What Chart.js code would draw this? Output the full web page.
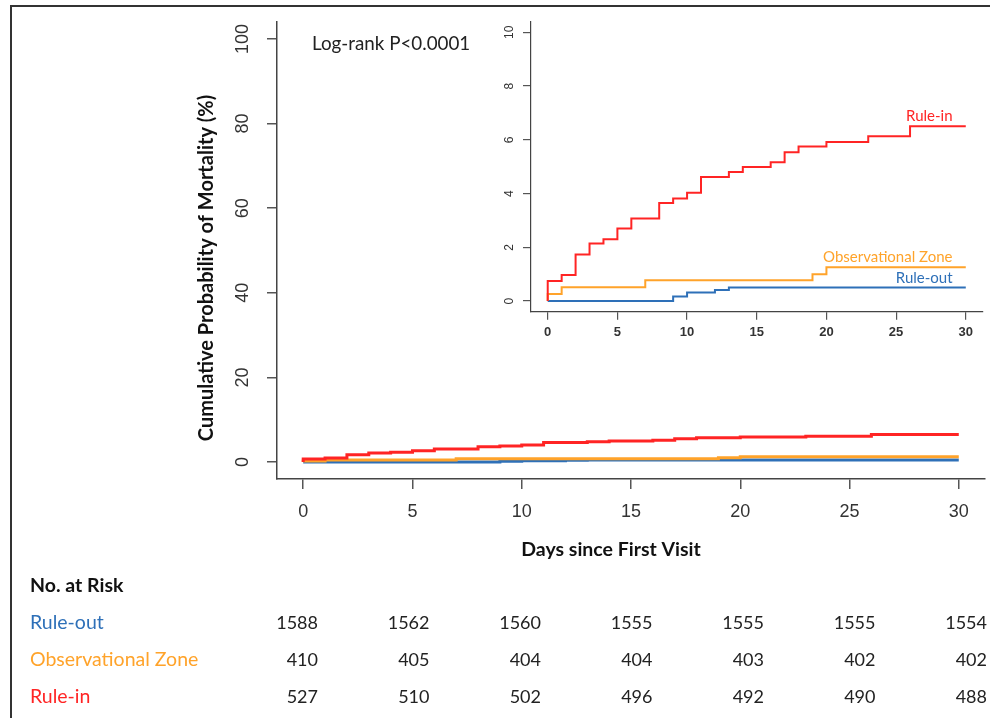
<!DOCTYPE html>
<html>
<head>
<meta charset="utf-8">
<script src="https://cdn.jsdelivr.net/npm/chart.js@4"></script>
<style>
body{margin:0;background:#fff;width:990px;height:718px;overflow:hidden;position:relative;font-family:Lato,sans-serif}
#frame{position:absolute;left:10px;top:5px;right:-5px;bottom:-5px;border-top:2px solid #333;border-left:2px solid #333}
#main{position:absolute;left:0;top:0}
#inset{position:absolute;left:490px;top:0}
.t{position:absolute;font-size:18px;line-height:22px;white-space:nowrap;color:#222}
</style>
</head>
<body>
<div id="frame"></div>
<canvas id="main" width="990" height="718"></canvas>
<canvas id="inset" width="500" height="350"></canvas>
<div id="risk"></div>
<script>
//data
const xTickValues = [0, 5, 10, 15, 20, 25, 30];
const mainYTicks = [0, 20, 40, 60, 80, 100];
const insetYTicks = [0, 2, 4, 6, 8, 10];

const ruleInDays = [0, 0, 1, 2, 3, 4, 5, 6, 8, 9, 10, 11, 13, 14, 16, 17, 18, 20, 23, 26, 30];
const ruleInPct = [0, 0.75, 0.97, 1.73, 2.14, 2.30, 2.70, 3.07, 3.65, 3.82, 4.03, 4.62, 4.80, 4.99, 5.17, 5.54, 5.75, 5.92, 6.13, 6.51, 6.51];
const obsDays = [0, 0, 1, 7, 19, 20, 30];
const obsPct = [0, 0.26, 0.51, 0.77, 1.00, 1.26, 1.26];
const ruleOutDays = [0, 9, 10, 12, 13, 30];
const ruleOutPct = [0, 0.17, 0.32, 0.41, 0.50, 0.50];

const groupNames = ['Rule-out', 'Observational Zone', 'Rule-in'];
const groupColors = ['#2e70b8', '#ffa32a', '#ff2424'];
const riskRuleOut = [1588, 1562, 1560, 1555, 1555, 1555, 1554];
const riskObs = [410, 405, 404, 404, 403, 402, 402];
const riskRuleIn = [527, 510, 502, 496, 492, 490, 488];

// ------------------------------------------------------------------
function pts(days, vals) {
  return days.map((d, i) => ({ x: d, y: vals[i] }));
}

function makeSets(width) {
  return [
    { data: pts(ruleInDays, ruleInPct), borderColor: groupColors[2], borderWidth: width },
    { data: pts(obsDays, obsPct), borderColor: groupColors[1], borderWidth: width },
    { data: pts(ruleOutDays, ruleOutPct), borderColor: groupColors[0], borderWidth: width },
  ].map(s => Object.assign(s, { stepped: 'before', pointRadius: 0, fill: false, borderCapStyle: 'butt' }));
}

function axisOpts(min, max, tickVals, extra) {
  return Object.assign({
    type: 'linear', min: min, max: max,
    afterBuildTicks: (s) => { s.ticks = tickVals.map(v => ({ value: v })); },
    grid: { drawOnChartArea: false, color: '#555', lineWidth: 1.5, tickLength: 10 },
    border: { display: true, color: '#444', width: 1.5 },
  }, extra);
}

//rotated y labels (R style) + titles
function rotatedY(scale, x, font) {
  const ctx = scale.ctx;
  ctx.save();
  ctx.font = font;
  ctx.fillStyle = '#333';
  ctx.textAlign = 'center';
  ctx.textBaseline = 'middle';
  scale.ticks.forEach(t => {
    ctx.save();
    ctx.translate(x, scale.getPixelForValue(t.value));
    ctx.rotate(-Math.PI / 2);
    ctx.fillText(String(t.value), 0, 0);
    ctx.restore();
  });
  ctx.restore();
}

const mainText = {
  id: 'mainText',
  afterDraw(chart) {
    const ctx = chart.ctx;
    rotatedY(chart.scales.y, 243, '18px "Liberation Sans"');
    ctx.save();
    ctx.fillStyle = '#111';
    ctx.textAlign = 'center';
    ctx.textBaseline = 'middle';
    ctx.font = 'bold 19.5px Lato';
    ctx.fillText('Days since First Visit', 611, 550);
    ctx.font = 'bold 20px Lato';
    ctx.translate(207, 268);
    ctx.rotate(-Math.PI / 2);
    ctx.fillText('Cumulative Probability of Mortality (%)', 0, 0);
    ctx.restore();
    ctx.save();
    ctx.fillStyle = '#222';
    ctx.font = '18.8px Lato';
    ctx.textBaseline = 'middle';
    ctx.fillText('Log-rank P<0.0001', 312, 44);
    ctx.restore();
  }
};

const insetText = {
  id: 'insetText',
  afterDraw(chart) {
    const ctx = chart.ctx;
    const xs = chart.scales.x, ys = chart.scales.y;
    rotatedY(ys, 20, '12px "Liberation Sans"');
    const labelY = [0.87, 1.65, 6.87];
    ctx.save();
    ctx.font = '15px Lato';
    ctx.textAlign = 'right';
    ctx.textBaseline = 'middle';
    groupNames.forEach((n, i) => {
      ctx.fillStyle = groupColors[i];
      ctx.fillText(n, xs.getPixelForValue(29.05), ys.getPixelForValue(labelY[i]));
    });
    ctx.restore();
  }
};

new Chart(document.getElementById('main'), {
  type: 'line',
  data: { datasets: makeSets(3) },
  plugins: [mainText],
  options: {
    responsive: false, animation: false,
    layout: { padding: { top: 22, right: 5, left: 0, bottom: 0 } },
    plugins: { legend: { display: false }, tooltip: { enabled: false } },
    scales: {
      x: axisOpts(-1.2, 31.2, xTickValues, {
        afterFit: (s) => { s.height = 239; },
        ticks: { color: '#333', padding: 12, font: { family: 'Liberation Sans', size: 18 } },
      }),
      y: axisOpts(-4, 104, mainYTicks, {
        afterFit: (s) => { s.width = 277; },
        ticks: { display: false },
      }),
    },
  },
});

new Chart(document.getElementById('inset'), {
  type: 'line',
  data: { datasets: makeSets(2) },
  plugins: [insetText],
  options: {
    responsive: false, animation: false,
    layout: { padding: { top: 21.6, right: 7.5, left: 0, bottom: 0 } },
    plugins: { legend: { display: false }, tooltip: { enabled: false } },
    scales: {
      x: axisOpts(-1.2, 31.2, xTickValues, {
        afterFit: (s) => { s.height = 38.2; },
        grid: { drawOnChartArea: false, color: '#555', lineWidth: 1.2, tickLength: 8 },
        border: { display: true, color: '#444', width: 1.2 },
        ticks: { color: '#333', padding: 5, font: { family: 'Liberation Sans', size: 13, weight: 'bold' } },
      }),
      y: axisOpts(-0.4, 10.4, insetYTicks, {
        afterFit: (s) => { s.width = 41; },
        grid: { drawOnChartArea: false, color: '#555', lineWidth: 1.2, tickLength: 8 },
        border: { display: true, color: '#444', width: 1.2 },
        ticks: { display: false },
      }),
    },
  },
});

//number at risk table
const risk = document.getElementById('risk');
function addText(txt, left, top, color, extra) {
  const d = document.createElement('div');
  d.className = 't';
  d.textContent = txt;
  d.style.top = top + 'px';
  d.style.color = color;
  if (left < 0) { d.style.right = (-left) + 'px'; d.style.textAlign = 'right'; }
  else d.style.left = left + 'px';
  if (extra) Object.assign(d.style, extra);
  risk.appendChild(d);
}
addText('No. at Risk', 30, 574, '#111', { fontWeight: 'bold', fontSize: '19.5px' });
[riskRuleOut, riskObs, riskRuleIn].forEach((row, r) => {
  const top = 611 + r * 37;
  addText(groupNames[r], 30, top, groupColors[r], { fontSize: '19.5px' });
  row.forEach((n, c) => {
    const rightEdge = 318 + c * 111.5;
    addText(String(n), -(990 - rightEdge), top, '#222');
  });
});
</script>
</body>
</html>
